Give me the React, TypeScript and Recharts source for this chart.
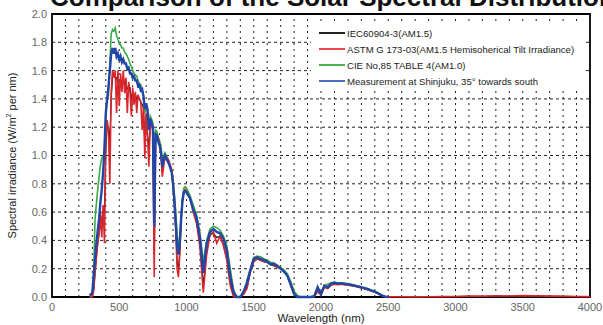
import React from 'react';
import { LineChart, Line, XAxis, YAxis, CartesianGrid, ReferenceLine, ReferenceArea } from 'recharts';

// wavelength grid (nm): 10 nm up to 1000, 25 nm up to 2500, 100 nm up to 4000
const WAVELENGTHS = [
  280, 290, 300, 310, 320, 330, 340, 350, 360, 370,
  380, 390, 400, 410, 420, 430, 440, 450, 460, 470,
  480, 490, 500, 510, 520, 530, 540, 550, 560, 570,
  580, 590, 600, 610, 620, 630, 640, 650, 660, 670,
  680, 690, 700, 710, 720, 730, 740, 750, 760, 770,
  780, 790, 800, 810, 820, 830, 840, 850, 860, 870,
  880, 890, 900, 910, 920, 930, 940, 950, 960, 970,
  980, 990, 1000,
  1025, 1050, 1075, 1100, 1125, 1150, 1175, 1200, 1225, 1250,
  1275, 1300, 1325, 1350, 1375, 1400, 1425, 1450, 1475, 1500,
  1525, 1550, 1575, 1600, 1625, 1650, 1675, 1700, 1725, 1750,
  1775, 1800, 1825, 1850, 1875, 1900, 1925, 1950, 1975, 2000,
  2025, 2050, 2075, 2100, 2125, 2150, 2175, 2200, 2225, 2250,
  2275, 2300, 2325, 2350, 2375, 2400, 2425, 2450, 2475, 2500,
  2600, 2700, 2800, 2900, 3000, 3100, 3200, 3300, 3400, 3500,
  3600, 3700, 3800, 3900, 4000,
];

// IEC60904-3 (AM1.5) - mostly hidden under the others
const IEC = [
  0, 0, 0, 0.05, 0.17, 0.28, 0.38, 0.45, 0.5, 0.55,
  0.6, 0.6, 1.05, 1.2, 1.2, 1.1, 1.4, 1.55, 1.58, 1.55,
  1.55, 1.5, 1.52, 1.52, 1.48, 1.55, 1.5, 1.52, 1.47, 1.48,
  1.48, 1.4, 1.45, 1.43, 1.43, 1.4, 1.42, 1.4, 1.38, 1.36,
  1.34, 1.08, 1.28, 1.15, 1.05, 1.2, 1.22, 1.18, 0.3, 1.12,
  1.14, 1.12, 1.08, 1.02, 0.88, 0.95, 1.0, 0.97, 0.97, 0.95,
  0.92, 0.88, 0.78, 0.66, 0.5, 0.25, 0.2, 0.32, 0.55, 0.68,
  0.73, 0.75, 0.74,
  0.7, 0.62, 0.53, 0.38, 0.08, 0.32, 0.44, 0.45, 0.42, 0.43,
  0.37, 0.27, 0.1, 0.01, 0, 0, 0.02, 0.07, 0.18, 0.25,
  0.27, 0.26, 0.25, 0.245, 0.23, 0.22, 0.21, 0.2, 0.18, 0.15,
  0.08, 0.02, 0, 0, 0, 0, 0, 0.003, 0.04, 0.015,
  0.07, 0.06, 0.085, 0.09, 0.088, 0.09, 0.087, 0.085, 0.08, 0.076,
  0.07, 0.064, 0.058, 0.05, 0.043, 0.035, 0.025, 0.012, 0.005, 0.003,
  0.002, 0.001, 0.002, 0.002, 0.003, 0.004, 0.004, 0.005, 0.005, 0.006,
  0.006, 0.005, 0.004, 0.003, 0.003,
];

// ASTM G 173-03 (AM1.5 hemispherical tilt)
const ASTM = [
  0, 0, 0, 0.05, 0.17, 0.28, 0.38, 0.45, 0.6, 0.42,
  0.65, 0.38, 1.1, 1.25, 1.18, 0.8, 1.45, 1.6, 1.55, 1.6,
  1.3, 1.6, 1.35, 1.58, 1.45, 1.6, 1.44, 1.55, 1.3, 1.52,
  1.45, 1.28, 1.48, 1.36, 1.45, 1.3, 1.43, 1.4, 1.38, 1.18,
  1.35, 0.98, 1.3, 1.15, 0.92, 1.2, 1.22, 1.18, 0.14, 1.1,
  1.15, 1.12, 1.08, 1.0, 0.85, 0.92, 1.0, 0.97, 0.98, 0.96,
  0.93, 0.9, 0.78, 0.65, 0.48, 0.2, 0.14, 0.3, 0.55, 0.68,
  0.74, 0.76, 0.75,
  0.7, 0.6, 0.52, 0.35, 0.03, 0.3, 0.44, 0.46, 0.38, 0.43,
  0.36, 0.26, 0.08, 0, 0, 0, 0.02, 0.06, 0.18, 0.25,
  0.27, 0.26, 0.25, 0.245, 0.23, 0.22, 0.21, 0.2, 0.18, 0.15,
  0.08, 0.02, 0, 0, 0, 0, 0, 0.003, 0.04, 0.015,
  0.07, 0.06, 0.085, 0.09, 0.088, 0.09, 0.087, 0.085, 0.08, 0.076,
  0.07, 0.064, 0.058, 0.05, 0.043, 0.035, 0.025, 0.012, 0.005, 0.003,
  0.002, 0.001, 0.002, 0.003, 0.004, 0.006, 0.005, 0.008, 0.007, 0.01,
  0.008, 0.006, 0.005, 0.004, 0.003,
];

// CIE No.85 Table 4 (AM1.0)
const CIE = [
  0, 0, 0.01, 0.2, 0.55, 0.66, 0.76, 0.85, 0.93, 0.98,
  1.0, 1.02, 1.3, 1.4, 1.42, 1.65, 1.86, 1.89, 1.88, 1.9,
  1.85, 1.82, 1.8, 1.78, 1.76, 1.76, 1.73, 1.72, 1.7, 1.68,
  1.65, 1.63, 1.6, 1.58, 1.57, 1.56, 1.53, 1.5, 1.5, 1.46,
  1.42, 1.3, 1.37, 1.33, 1.2, 1.28, 1.26, 1.23, 0.7, 1.18,
  1.17, 1.13, 1.1, 1.07, 0.95, 1.0, 1.02, 1.0, 0.98, 0.95,
  0.93, 0.9, 0.82, 0.72, 0.6, 0.45, 0.36, 0.42, 0.58, 0.7,
  0.77, 0.78, 0.77,
  0.72, 0.65, 0.58, 0.45, 0.25, 0.4, 0.48, 0.5, 0.49, 0.47,
  0.43, 0.36, 0.2, 0.05, 0, 0, 0.03, 0.12, 0.2, 0.28,
  0.29, 0.285, 0.27, 0.26, 0.245, 0.24, 0.225, 0.21, 0.19, 0.165,
  0.11, 0.04, 0.01, 0, 0, 0, 0, 0.01, 0.06, 0.03,
  0.08, 0.09, 0.1, 0.105, 0.1, 0.1, 0.098, 0.095, 0.09, 0.085,
  0.078, 0.072, 0.066, 0.058, 0.05, 0.042, 0.03, 0.015, 0.003, 0,
  null, null, null, null, null, null, null, null, null, null,
  null, null, null, null, null,
];

// Measurement at Shinjuku, 35 deg towards south
const SHINJUKU = [
  0.01, 0.02, 0.03, 0.15, 0.27, 0.38, 0.47, 0.55, 0.67, 0.76,
  0.88, 1.05, 1.3, 1.4, 1.49, 1.6, 1.72, 1.76, 1.72, 1.76,
  1.7, 1.72, 1.67, 1.7, 1.66, 1.68, 1.65, 1.65, 1.61, 1.62,
  1.58, 1.58, 1.55, 1.56, 1.53, 1.53, 1.49, 1.5, 1.46, 1.47,
  1.42, 1.33, 1.37, 1.32, 1.18, 1.26, 1.23, 1.2, 0.5, 1.15,
  1.14, 1.1, 1.07, 1.03, 0.92, 0.97, 1.0, 0.98, 0.96, 0.94,
  0.91, 0.88, 0.8, 0.68, 0.52, 0.36, 0.3, 0.38, 0.55, 0.68,
  0.74, 0.75, 0.74,
  0.7, 0.62, 0.56, 0.42, 0.17, 0.38, 0.46, 0.48, 0.46, 0.45,
  0.41, 0.33, 0.15, 0.03, 0, 0, 0.04, 0.1, 0.19, 0.27,
  0.28, 0.27, 0.26, 0.25, 0.23, 0.235, 0.22, 0.2, 0.18, 0.15,
  0.09, 0.02, 0, 0, 0, 0, 0, 0.005, 0.07, 0.02,
  0.08, 0.07, 0.095, 0.1, 0.095, 0.098, 0.093, 0.09, 0.086, 0.08,
  0.075, 0.068, 0.062, 0.055, 0.046, 0.036, 0.025, 0.012, 0.003, 0,
  null, null, null, null, null, null, null, null, null, null,
  null, null, null, null, null,
];

const X_TICKS = [0, 500, 1000, 1500, 2000, 2500, 3000, 3500, 4000];
const Y_TICKS = [0, 0.2, 0.4, 0.6, 0.8, 1.0, 1.2, 1.4, 1.6, 1.8, 2.0];
const X_GRID = [
  100, 200, 300, 400, 500, 600, 700, 800, 900, 1000, 1100, 1200, 1300, 1400, 1500,
  1600, 1700, 1800, 1900, 2000, 2100, 2200, 2300, 2400, 2500, 2600, 2700, 2800,
  2900, 3000, 3100, 3200, 3300, 3400, 3500, 3600, 3700, 3800, 3900,
];

const SERIES = [
  { key: 'iec', name: 'IEC60904-3(AM1.5)', color: '#111111', legend: '#222222', width: 1.2 },
  { key: 'cie', name: 'CIE No,85 TABLE 4(AM1.0)', color: '#3aaa45', legend: '#4cb050', width: 1.6 },
  { key: 'astm', name: 'ASTM G 173-03(AM1.5 Hemisoherical Tilt Irradiance)', color: '#d8262c', legend: '#e8474c', width: 1.6 },
  { key: 'meas', name: 'Measurement at Shinjuku, 35° towards south', color: '#2146a8', legend: '#4a6fc0', width: 2.4 },
];
const LEGEND_ORDER = ['iec', 'astm', 'cie', 'meas'];

const rows = WAVELENGTHS.map((wl, i) => ({
  wl,
  iec: IEC[i],
  astm: ASTM[i],
  cie: CIE[i],
  meas: SHINJUKU[i],
}));

const FONT = '"Liberation Sans", Arial, sans-serif';
const tickStyle = { fill: '#666', fontSize: 11, fontFamily: FONT };

const YLabel = ({ viewBox }: any) => {
  const cy = viewBox.y + viewBox.height / 2;
  return (
    <text
      x={12}
      y={cy}
      transform={`rotate(-90, 12, ${cy})`}
      textAnchor="middle"
      dominantBaseline="central"
      fontSize={11}
      fontFamily={FONT}
      fill="#222"
    >
      Spectral irradiance (W/m
      <tspan dy={-4} fontSize={7}>2</tspan>
      <tspan dy={4}> per nm)</tspan>
    </text>
  );
};

const XLabel = ({ viewBox }: any) => (
  <text
    x={viewBox.x + viewBox.width / 2}
    y={322}
    textAnchor="middle"
    fontSize={11.5}
    fontFamily={FONT}
    fill="#222"
  >
    Wavelength (nm)
  </text>
);

export default function App() {
  return (
    <div
      style={{
        position: 'fixed',
        left: 0,
        top: 0,
        width: 603,
        height: 325,
        overflow: 'hidden',
        background: '#fff',
        fontFamily: FONT,
      }}
    >
      {/* title, clipped at the top edge like the source */}
      <div
        style={{
          position: 'absolute',
          left: 50,
          top: -16,
          fontSize: 26,
          lineHeight: '26px',
          fontWeight: 'bold',
          whiteSpace: 'nowrap',
          color: '#111',
        }}
      >
        Comparison of the Solar Spectral Distribution
      </div>

      <div style={{ position: 'absolute', left: 0, top: 0 }}>
        <LineChart width={603} height={325} data={rows} margin={{ top: 14, right: 13, left: 0, bottom: 0 }}>
          <CartesianGrid vertical={false} stroke="#222" strokeDasharray="3 3" />
          {X_GRID.map((v) => (
            <ReferenceLine key={v} x={v} stroke="#222" strokeDasharray="2 4" strokeWidth={1} />
          ))}
          <XAxis
            dataKey="wl"
            type="number"
            domain={[0, 4000]}
            ticks={X_TICKS}
            interval={0}
            tick={tickStyle}
            tickLine={false}
            tickSize={4}
            tickMargin={2}
            axisLine={false}
            height={28}
            label={<XLabel />}
          />
          <YAxis
            type="number"
            domain={[0, 2]}
            ticks={Y_TICKS}
            interval={0}
            tick={tickStyle}
            tickFormatter={(v: number) => v.toFixed(1)}
            tickLine={false}
            tickSize={3}
            tickMargin={2}
            axisLine={false}
            width={52}
            label={<YLabel />}
          />
          {SERIES.map((s) => (
            <Line
              key={s.key}
              type="linear"
              dataKey={s.key}
              name={s.name}
              stroke={s.color}
              strokeWidth={s.width}
              dot={false}
              isAnimationActive={false}
            />
          ))}
          <ReferenceArea x1={0} x2={4000} y1={0} y2={2} fill="none" stroke="#000" strokeWidth={1.8} />
        </LineChart>
      </div>

      {/* legend box inside the plot */}
      <div
        style={{
          position: 'absolute',
          left: 311,
          top: 23,
          width: 274,
          height: 66,
          background: '#fff',
          fontSize: 9.6,
          color: '#222',
        }}
      >
        {LEGEND_ORDER.map((k, i) => {
          const s = SERIES.find((x) => x.key === k)!;
          return (
            <div
              key={k}
              style={{
                position: 'absolute',
                left: 8,
                top: 4 + i * 16,
                height: 12,
                display: 'flex',
                alignItems: 'center',
                whiteSpace: 'nowrap',
              }}
            >
              <span style={{ width: 26, height: 1.5, background: s.legend, marginRight: 2 }} />
              <span>{s.name}</span>
            </div>
          );
        })}
      </div>
    </div>
  );
}
